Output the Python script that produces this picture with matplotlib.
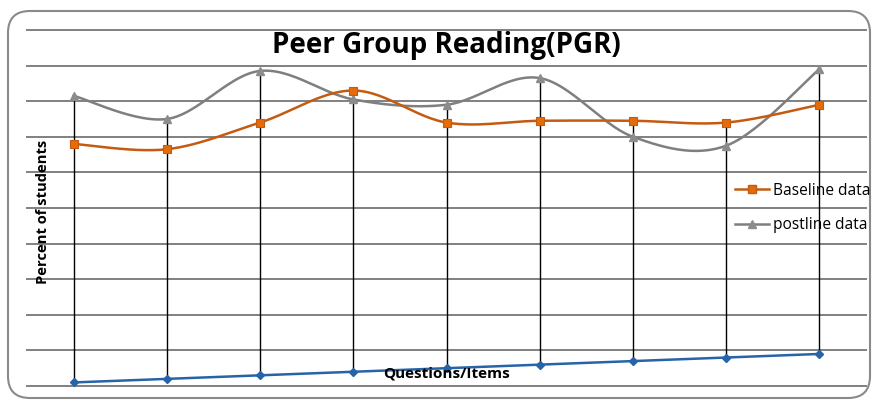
import numpy as np
import matplotlib.pyplot as plt
from matplotlib.patches import FancyBboxPatch
from matplotlib.lines import Line2D

# Data (0-100 scale, 10 per gridline)
items = list(range(1, 10))
baseline = [68, 66.5, 74, 83, 74, 74.5, 74.5, 74, 79]
postline = [81.5, 75, 88.5, 80.5, 79, 86.5, 70, 67.5, 89]
item_no = [1, 2, 3, 4, 5, 6, 7, 8, 9]

orange = '#C55A11'
orange_mk = '#E46C0A'
grey = '#7F7F7F'
blue = '#2763A8'


def smooth(x, y, n=30):
    # Excel-like smoothed line (Catmull-Rom through the points)
    x = np.asarray(x, float)
    y = np.asarray(y, float)
    px = np.concatenate(([x[0]], x, [x[-1]]))
    py = np.concatenate(([y[0]], y, [y[-1]]))
    t = np.linspace(0, 1, n)[:, None]
    xs, ys = [], []
    for i in range(1, len(px) - 2):
        p0 = np.array([px[i], py[i]])
        p3 = np.array([px[i + 1], py[i + 1]])
        p1 = p0 + (np.array([px[i + 1], py[i + 1]]) - np.array([px[i - 1], py[i - 1]])) / 6
        p2 = p3 - (np.array([px[i + 2], py[i + 2]]) - np.array([px[i], py[i]])) / 6
        b = (1 - t) ** 3 * p0 + 3 * (1 - t) ** 2 * t * p1 + 3 * (1 - t) * t ** 2 * p2 + t ** 3 * p3
        xs.append(b[:, 0])
        ys.append(b[:, 1])
    return np.concatenate(xs), np.concatenate(ys)


fig = plt.figure(figsize=(8.76, 4.01), dpi=100)
ax = fig.add_axes([27 / 876, 15 / 401, 839 / 876, 356 / 401])

x = np.arange(len(items))

# gridlines
for g in range(0, 101, 10):
    ax.axhline(g, color='#808080', lw=1.4, zorder=1, clip_on=False)

# high-low lines
tops = np.maximum(baseline, postline)
ax.vlines(x, item_no, tops, color='black', lw=1.0, zorder=2)

sx, sy = smooth(x, postline)
ax.plot(sx, sy, color=grey, lw=1.8, zorder=3)
ax.plot(x, postline, ls='none', marker='^', ms=5.5, color='#8C8C8C', zorder=4)

sx, sy = smooth(x, baseline)
ax.plot(sx, sy, color=orange, lw=1.8, zorder=3)
ax.plot(x, baseline, ls='none', marker='s', ms=5.5, color=orange_mk,
        mec=orange, mew=0.8, zorder=4)

ax.plot(x, item_no, color=blue, lw=1.8, marker='D', ms=4, zorder=3)

ax.set_xlim(-0.5, len(items) - 0.5)
ax.set_ylim(0, 100)
ax.set_xticks([])
ax.set_yticks([])
for s in ax.spines.values():
    s.set_visible(False)
ax.patch.set_alpha(0)

ax.text(4.0, 1.5, 'Questions/Items', fontsize=11, fontweight='bold',
        family='Open Sans', ha='center', va='bottom', zorder=5)

fig.text(446 / 876, 1 - 46 / 401, 'Peer Group Reading(PGR)', fontsize=20,
         fontweight='bold', family='Open Sans', ha='center', va='center')
fig.text(43 / 876, 1 - 212 / 401, 'Percent of students', fontsize=10.6,
         fontweight='bold', family='Open Sans', rotation=90,
         ha='center', va='center')

handles = [
    Line2D([], [], color=orange, lw=1.8, marker='s', ms=5.5, mfc=orange_mk, mec=orange),
    Line2D([], [], color=grey, lw=1.8, marker='^', ms=5.5, mfc='#8C8C8C', mec='#8C8C8C'),
]
fig.legend(handles, ['Baseline data', 'postline data'], loc='center left',
           bbox_to_anchor=(727 / 876, 1 - 208 / 401), frameon=False,
           prop={'family': 'Open Sans', 'size': 11.2}, handlelength=2.2,
           handletextpad=0.25, labelspacing=1.2, borderpad=0)

# rounded outer frame
frame = FancyBboxPatch((8 / 876, 3 / 401), 862 / 876, 387 / 401,
                       boxstyle='round,pad=0,rounding_size=0.025',
                       transform=fig.transFigure, fill=False,
                       ec='#8A8A8A', lw=1.5, mutation_aspect=876 / 401)
fig.patches.append(frame)

fig.savefig('out.png', dpi=100)
